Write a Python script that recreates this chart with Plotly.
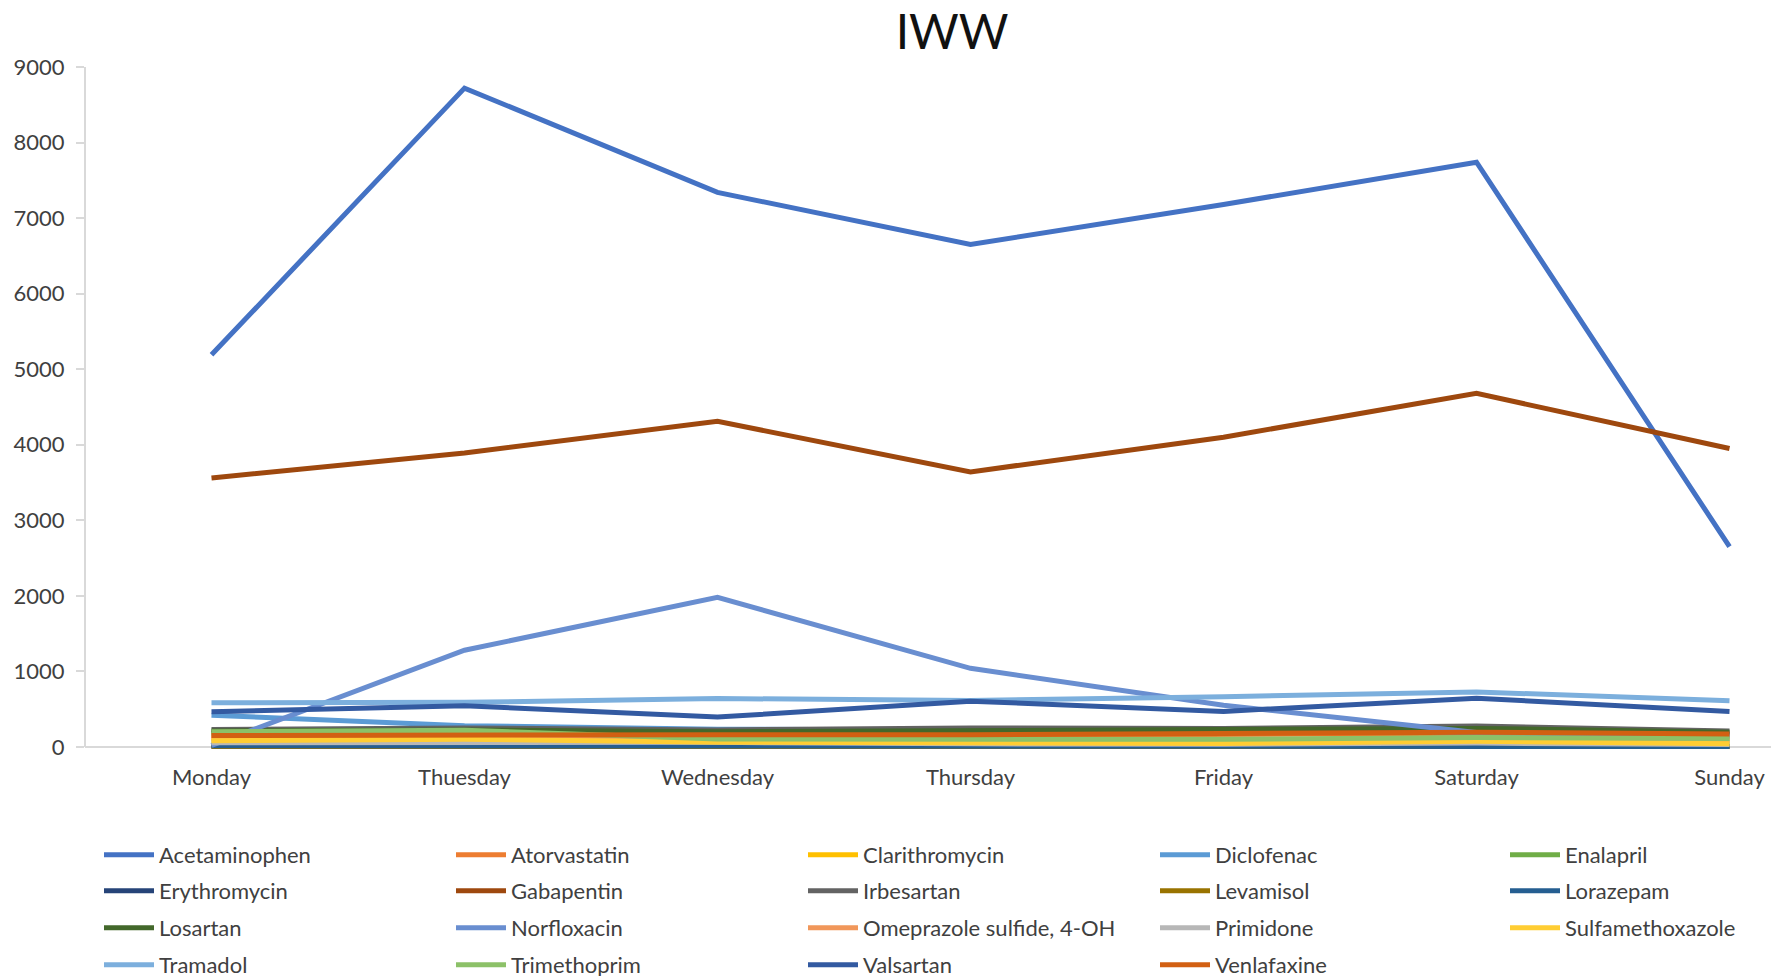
import plotly.graph_objects as go

# Days of the sampling week (axis categories, spelled as on the sheet)
days = ["Monday", "Thuesday", "Wednesday", "Thursday", "Friday", "Saturday", "Sunday"]

# Daily loads per compound
acetaminophen = [5190, 8720, 7340, 6650, 7180, 7740, 2650]
atorvastatin = [140, 150, 150, 150, 170, 180, 160]
clarithromycin = [70, 90, 55, 45, 40, 65, 35]
diclofenac = [420, 280, 235, 215, 200, 190, 170]
enalapril = [180, 200, 110, 90, 90, 115, 100]
erythromycin = [10, 10, 10, 8, 8, 10, 8]
gabapentin = [3560, 3890, 4310, 3640, 4100, 4680, 3950]
irbesartan = [230, 250, 225, 250, 245, 275, 210]
levamisol = [5, 5, 5, 5, 5, 5, 5]
lorazepam = [15, 13, 10, 8, 10, 20, 5]
losartan = [210, 225, 200, 215, 225, 245, 195]
norfloxacin = [20, 1280, 1980, 1040, 550, 190, 140]
omeprazole_sulfide = [110, 120, 100, 90, 85, 95, 85]
primidone = [55, 57, 60, 40, 35, 50, 30]
sulfamethoxazole = [80, 100, 62, 50, 45, 75, 40]
tramadol = [585, 590, 640, 615, 665, 728, 610]
trimethoprim = [200, 220, 105, 100, 100, 124, 110]
valsartan = [465, 545, 395, 605, 470, 645, 468]
venlafaxine = [150, 160, 160, 160, 180, 195, 170]

y_ticks = [0, 1000, 2000, 3000, 4000, 5000, 6000, 7000, 8000, 9000]

series = [
    ("Acetaminophen", acetaminophen, "#4472C4"),
    ("Atorvastatin", atorvastatin, "#ED7D31"),
    ("Clarithromycin", clarithromycin, "#FFC000"),
    ("Diclofenac", diclofenac, "#5B9BD5"),
    ("Enalapril", enalapril, "#70AD47"),
    ("Erythromycin", erythromycin, "#264478"),
    ("Gabapentin", gabapentin, "#9E480E"),
    ("Irbesartan", irbesartan, "#636363"),
    ("Levamisol", levamisol, "#997300"),
    ("Lorazepam", lorazepam, "#255E91"),
    ("Losartan", losartan, "#43682B"),
    ("Norfloxacin", norfloxacin, "#698ED0"),
    ("Omeprazole sulfide, 4-OH", omeprazole_sulfide, "#F1975A"),
    ("Primidone", primidone, "#B7B7B7"),
    ("Sulfamethoxazole", sulfamethoxazole, "#FFCD33"),
    ("Tramadol", tramadol, "#7CAFDD"),
    ("Trimethoprim", trimethoprim, "#8CC168"),
    ("Valsartan", valsartan, "#335AA1"),
    ("Venlafaxine", venlafaxine, "#D26012"),
]

W, H = 1771, 976
ML, MR, MT, MB = 85, 0, 67, 214
FONT = "Lato"
TXT = "#404040"
AXIS = "#D9D9D9"

plot_w = W - ML - MR
plot_h = H - MT - MB

# Legend grid: 5 columns; columns 1-4 of each row share one horizontal legend,
# the fifth column gets its own legend so nothing wraps.
row_px = [855, 891, 928, 965]
col5_px = 1505
legend_of = []
for i in range(len(series)):
    row, col = divmod(i, 5)
    if col < 4:
        legend_of.append("legend" if row == 0 else f"legend{row + 1}")
    else:
        legend_of.append(f"legend{5 + row}")

fig = go.Figure()
for i, (name, vals, color) in enumerate(series):
    fig.add_trace(go.Scatter(
        x=days, y=vals, name=name, mode="lines",
        line=dict(color=color, width=5),
        legend=legend_of[i],
    ))


def legend_box(px, py):
    return dict(
        orientation="h",
        x=(px - ML) / plot_w, xanchor="left",
        y=(H - MB - py) / plot_h, yanchor="middle",
        entrywidth=287, entrywidthmode="pixels",
        font=dict(family=FONT, size=22, color=TXT),
        bgcolor="rgba(0,0,0,0)",
        traceorder="normal",
        itemwidth=50,
    )


legends = {}
for row, py in enumerate(row_px):
    key = "legend" if row == 0 else f"legend{row + 1}"
    legends[key] = legend_box(99, py)
for row, py in enumerate(row_px[:3]):
    legends[f"legend{5 + row}"] = legend_box(col5_px, py)

fig.update_layout(
    width=W, height=H,
    margin=dict(l=ML, r=MR, t=MT, b=MB, autoexpand=False),
    paper_bgcolor="white", plot_bgcolor="white",
    title=dict(text="IWW", x=0.5376, xref="container", xanchor="center",
               y=1 - 32 / H, yanchor="middle",
               font=dict(family=FONT, size=48, color="#111111")),
    xaxis=dict(
        type="category", categoryorder="array", categoryarray=days,
        range=[-0.5, 6.164], showgrid=False, showline=False, zeroline=False,
        ticks="", ticklabelstandoff=0,
        tickfont=dict(family=FONT, size=22, color=TXT),
    ),
    yaxis=dict(
        range=[-200, 9000], tickmode="array", tickvals=y_ticks,
        showgrid=False, showline=False,
        zeroline=True, zerolinecolor=AXIS, zerolinewidth=2,
        ticks="outside", ticklen=8, tickwidth=2, tickcolor=AXIS,
        ticklabelstandoff=7,
        tickfont=dict(family=FONT, size=22, color=TXT),
    ),
    yaxis2=dict(
        overlaying="y", side="left", range=[-200, 9000],
        tickmode="array", tickvals=y_ticks, showticklabels=False,
        showgrid=False, showline=False, zeroline=False,
        ticks="inside", ticklen=7, tickwidth=2, tickcolor=AXIS,
    ),
    shapes=[dict(type="line", xref="paper", yref="y", x0=0, x1=0, y0=0, y1=9000,
                 line=dict(color=AXIS, width=2), layer="below")],
    **legends,
)

fig.write_html("out.html")
